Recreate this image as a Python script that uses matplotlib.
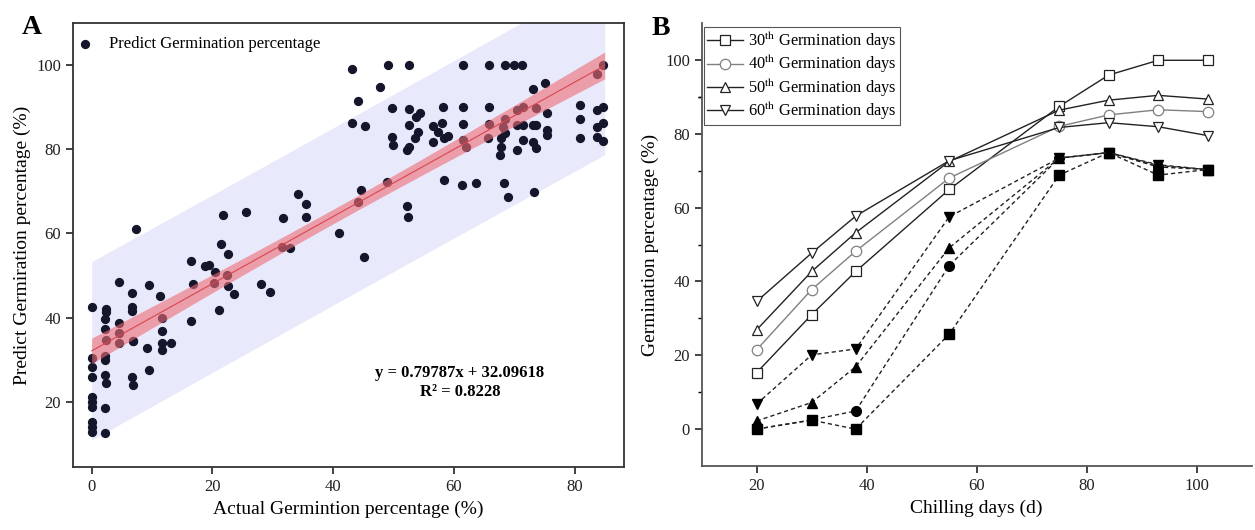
import numpy as np
import matplotlib.pyplot as plt

plt.rcParams['font.family'] = ['Liberation Serif', 'DejaVu Serif']
plt.rcParams['mathtext.fontset'] = 'stix'

# ---- Panel A : actual vs predicted germination percentage ----
actual = [
    0, 0, 0, 0, 0, 0, 0, 0, 0, 0,
    2.4, 2.4, 2.2, 2.2, 2.3, 2.2, 2.2, 2.2, 2.3, 2.2, 2.2,
    4.5, 4.5, 4.5, 4.6, 6.9, 6.7, 6.7, 6.6, 6.6, 6.9, 6.9, 7.3,
    9.1, 9.5, 9.5, 11.3, 11.6, 11.7, 11.7, 11.7, 13.2,
    16.5, 16.8, 16.5, 18.7, 19.5, 20.4, 20.2, 21.1, 22.5, 22.6, 23.5,
    21.5, 22.6, 21.7, 25.5, 28.1, 29.5, 31.7, 31.5, 32.8,
    34.2, 35.5, 35.5, 40.9, 45.2, 44.2, 44.7, 49.0,
    43.1, 44.2, 45.3, 43.1, 47.8,
    49.1, 52.5, 61.5, 65.9, 68.5, 69.9, 71.3, 84.8,
    73.2, 75.1, 83.7,
    49.7, 52.5, 54.4, 53.8, 58.2, 61.5, 65.9, 70.4, 71.5, 73.7, 75.4, 80.9, 83.7, 84.8,
    52.5, 56.6, 58.0, 57.4, 61.5, 65.9, 68.5, 68.2, 70.4, 71.5, 73.2, 73.7, 75.4, 80.9, 83.7, 84.8,
    49.7, 50.0, 52.5, 52.2, 54.1, 53.6, 56.6, 58.3, 59.1, 61.5, 62.1, 65.7,
    67.9, 67.9, 67.7, 68.5, 70.4, 71.5, 73.2, 73.7, 75.4, 80.9, 83.7, 84.8,
    58.3, 61.3, 63.7, 68.3, 68.9, 73.3, 52.2, 52.4,
]
predicted = [
    42.6, 30.3, 28.2, 25.8, 21.2, 20.0, 18.8, 15.3, 14.1, 12.9,
    42.0, 41.4, 39.6, 37.2, 34.7, 30.9, 29.9, 26.4, 24.4, 18.6, 12.5,
    38.8, 36.4, 34.0, 48.5, 34.4, 45.8, 42.6, 41.6, 26.0, 24.0, 34.4, 61.0,
    32.7, 27.6, 47.7, 45.1, 39.8, 36.7, 34.0, 32.3, 33.9,
    39.3, 48.1, 53.4, 52.3, 52.6, 50.9, 48.3, 41.8, 50.1, 47.5, 45.6,
    57.4, 55.0, 64.4, 65.0, 48.0, 46.2, 63.6, 56.8, 56.5,
    69.3, 67.0, 64.0, 60.2, 54.5, 67.5, 70.3, 72.3,
    99.0, 91.4, 85.5, 86.3, 94.9,
    100, 100, 100, 100, 100, 100, 100, 100,
    94.2, 95.7, 98.0,
    89.7, 89.5, 88.7, 87.7, 90.1, 90.1, 90.1, 89.3, 90.1, 89.7, 88.5, 90.5, 89.3, 90.1,
    85.7, 85.5, 86.3, 84.2, 86.0, 86.0, 87.3, 85.2, 85.8, 85.8, 85.8, 85.8, 84.6, 87.1, 85.3, 86.2,
    83.0, 81.0, 80.6, 79.8, 84.2, 82.6, 81.8, 82.6, 83.1, 82.2, 80.6, 82.6,
    82.6, 80.6, 78.6, 83.8, 79.8, 82.3, 81.8, 80.2, 83.4, 82.6, 83.0, 82.0,
    72.8, 71.5, 72.0, 71.9, 68.6, 69.8, 66.6, 63.8,
]
slope = 0.79787
intercept = 32.09618
r_squared = 0.8228

# ---- Panel B : germination percentage vs chilling days ----
chilling_days = [20, 30, 38, 55, 75, 84, 93, 102]
open_series = {
    '30': [15.3, 31.0, 42.7, 64.9, 87.4, 95.9, 99.9, 99.9],
    '40': [21.5, 37.8, 48.2, 68.0, 82.0, 85.1, 86.5, 86.0],
    '50': [26.9, 42.7, 53.2, 72.5, 86.4, 89.1, 90.4, 89.4],
    '60': [34.6, 47.7, 57.7, 72.7, 81.7, 83.0, 81.9, 79.5],
}
filled_square = [0.0, 2.4, 0.0, 25.7, 68.8, 74.9, 68.8, 70.3]
filled_circle = [0.0, 2.5, 4.9, 44.3, 73.4, 74.9, 71.0, 70.3]
filled_up = [2.2, 7.2, 16.9, 49.1, 73.4, 74.9, 71.6, 70.3]
filled_down = [6.8, 20.1, 21.7, 57.5, 73.4, 74.9, 71.4, 70.3]

fig = plt.figure(figsize=(12.55, 5.3), dpi=100)
axA = fig.add_axes([73 / 1255, 63 / 530, 551 / 1255, 444 / 530])
axB = fig.add_axes([701.7 / 1255, 64 / 530, 550 / 1255, 443 / 530])

# regression bands computed from the scatter around the reported line
x = np.array(actual)
y = np.array(predicted)
n = len(x)
resid = y - (slope * x + intercept)
s = np.sqrt(np.sum(resid ** 2) / (n - 2))
xm = x.mean()
sxx = np.sum((x - xm) ** 2)
xf = np.linspace(0, 85, 200)
yf = slope * xf + intercept
ci = 1.976 * s * np.sqrt(1 / n + (xf - xm) ** 2 / sxx)
pi = 1.976 * s * np.sqrt(1 + 1 / n + (xf - xm) ** 2 / sxx)

axA.fill_between(xf, yf - pi, yf + pi, color='#e8eafb', lw=0, zorder=1)
axA.scatter(x, y, s=32, color='#15152b', zorder=2, label='Predict Germination percentage')
axA.fill_between(xf, yf - ci, yf + ci, color='#ee6c74', alpha=0.6, lw=0, zorder=3)
axA.plot(xf, yf, color='#d9454f', lw=0.8, zorder=4)

axA.set_xlim(-3.1, 88.2)
axA.set_ylim(4.5, 110)
axA.set_xticks([0, 20, 40, 60, 80])
axA.set_yticks([20, 40, 60, 80, 100])
axA.tick_params(direction='out', length=5, width=1.2, labelsize=12, colors='#222222')
for sp in axA.spines.values():
    sp.set_linewidth(1.3)
    sp.set_color('#333333')
axA.set_xlabel('Actual Germintion percentage (%)', fontsize=14)
axA.set_ylabel('Predict Germiration percentage (%)', fontsize=14)
axA.legend(loc='upper left', bbox_to_anchor=(-0.02, 0.985), frameon=False, fontsize=12,
           handletextpad=0.45, borderaxespad=0)
axA.text(61, 26.8, 'y = %.5fx + %.5f' % (slope, intercept), ha='center', va='center',
         fontsize=12, fontweight='bold')
axA.text(61, 22.3, 'R² = %.4f' % r_squared, ha='center', va='center',
         fontsize=12, fontweight='bold')

# panel B
markers = {'30': 's', '40': 'o', '50': '^', '60': 'v'}
colors = {'30': '#222222', '40': '#808080', '50': '#222222', '60': '#222222'}
for key, vals in open_series.items():
    axB.plot(chilling_days, vals, color=colors[key], lw=1.0, marker=markers[key], ms=7.5,
             mfc='white', mec=colors[key], mew=0.9, zorder=3,
             label=key + r'$^{\rm th}$ Germination days')

dash = (0, (3, 2.2))
for vals, mk in [(filled_square, 's'), (filled_circle, 'o'), (filled_up, '^'), (filled_down, 'v')]:
    axB.plot(chilling_days, vals, color='#222222', lw=1.0, ls=dash, marker=mk, ms=7,
             mfc='black', mec='black', zorder=3)

axB.set_xlim(10, 110)
axB.set_ylim(-10, 110)
axB.set_xticks([20, 40, 60, 80, 100])
axB.set_yticks([0, 20, 40, 60, 80, 100])
axB.set_yticks([-10 + 20 * i for i in range(1, 6)] + [90], minor=True)
axB.tick_params(direction='out', length=5, width=1.2, labelsize=12, colors='#222222')
axB.tick_params(axis='y', which='minor', direction='out', length=3, width=1.0)
axB.spines['top'].set_visible(False)
axB.spines['right'].set_visible(False)
for sp in ['left', 'bottom']:
    axB.spines[sp].set_linewidth(1.3)
    axB.spines[sp].set_color('#555555')
axB.set_xlabel('Chilling days (d)', fontsize=14)
axB.set_ylabel('Germination percentage (%)', fontsize=14)
leg = axB.legend(loc='upper left', bbox_to_anchor=(0.004, 0.99), borderaxespad=0, fontsize=11.8,
                 fancybox=False, framealpha=1, edgecolor='#555555', handlelength=2.2,
                 handletextpad=0.3, labelspacing=0.12, borderpad=0.2)
leg.get_frame().set_linewidth(0.8)

fig.text(22 / 1255, 1 - 34 / 530, 'A', fontsize=20, fontweight='bold')
fig.text(652 / 1255, 1 - 35 / 530, 'B', fontsize=20, fontweight='bold')

fig.savefig('out.png', dpi=100)
